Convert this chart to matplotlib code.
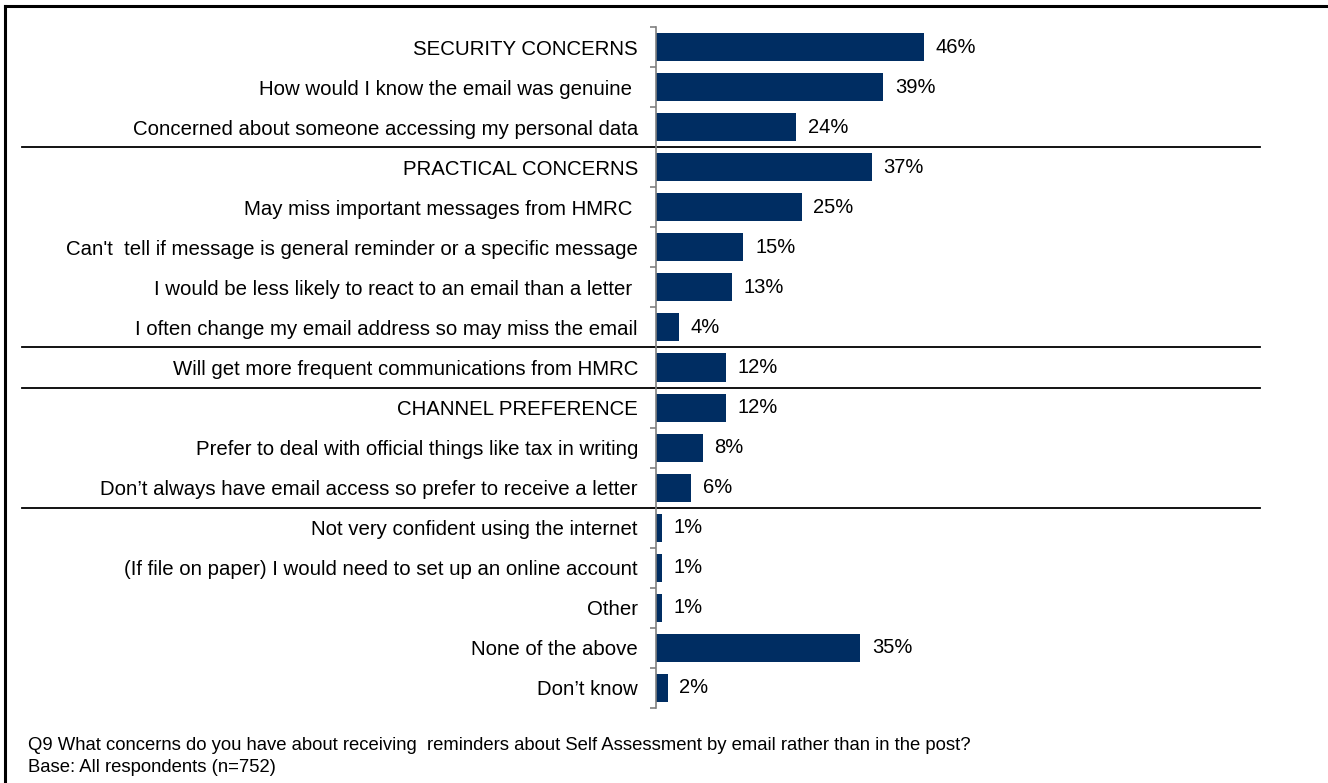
import numpy as np
import matplotlib
matplotlib.use("Agg")
import matplotlib.pyplot as plt
from matplotlib.transforms import blended_transform_factory

# survey answers, top to bottom
labels = [
    "SECURITY CONCERNS",
    "How would I know the email was genuine ",
    "Concerned about someone accessing my personal data",
    "PRACTICAL CONCERNS",
    "May miss important messages from HMRC ",
    "Can't  tell if message is general reminder or a specific message",
    "I would be less likely to react to an email than a letter ",
    "I often change my email address so may miss the email",
    "Will get more frequent communications from HMRC",
    "CHANNEL PREFERENCE",
    "Prefer to deal with official things like tax in writing",
    "Don\u2019t always have email access so prefer to receive a letter",
    "Not very confident using the internet",
    "(If file on paper) I would need to set up an online account",
    "Other",
    "None of the above",
    "Don\u2019t know",
]
values = [46, 39, 24, 37, 25, 15, 13, 4, 12, 12, 8, 6, 1, 1, 1, 35, 2]
# group dividers sit after these rows
dividers = [2, 7, 8, 11]

footnote = ("Q9 What concerns do you have about receiving  reminders about "
            "Self Assessment by email rather than in the post?")
base_note = "Base: All respondents (n=752)"

plt.rcParams['font.family'] = ['Liberation Sans', 'DejaVu Sans']

W, H = 1328, 783
fig = plt.figure(figsize=(W / 100, H / 100), dpi=100)
# axes placed in pixel terms: y-axis at x=656, rows between y=27 and y=708
ax = fig.add_axes([656 / W, 1 - 708 / H, (1260 - 656) / W, (708 - 27) / H])

navy = "#002D62"
y = np.arange(len(labels))
ax.barh(y, values, height=0.7, color=navy)
ax.set_ylim(len(labels) - 0.5, -0.5)
ax.set_xlim(0, 103.6)

for yi, v in zip(y, values):
    ax.text(v + 2.0, yi, f"{v}%", va="center", ha="left", fontsize=14.5, color="black")

ax.set_yticks(y)
ax.set_yticklabels(labels, fontsize=14.7)
ax.tick_params(axis="y", which="major", length=0, pad=13)
ax.set_yticks(np.arange(-0.5, len(labels), 1), minor=True)
ax.tick_params(axis="y", which="minor", length=4, color="#808080", width=1.2)
ax.set_xticks([])
for s in ["top", "right", "bottom"]:
    ax.spines[s].set_visible(False)
ax.spines["left"].set_color("#808080")
ax.spines["left"].set_linewidth(1.2)

# horizontal group dividers across the whole chart
tr = blended_transform_factory(fig.transFigure, ax.transData)
for d in dividers:
    ax.plot([22 / W, 1260 / W], [d + 0.5, d + 0.5], transform=tr, color="black",
            lw=1.3, clip_on=False)

# outer frame (top and left edges visible)
fig.add_artist(plt.Line2D([5 / W, 1], [1 - 6 / H, 1 - 6 / H], color="black", lw=2.2))
fig.add_artist(plt.Line2D([5 / W, 5 / W], [0, 1 - 6 / H], color="black", lw=2.2))

fig.text(28 / W, 1 - 745 / H, footnote, fontsize=13.3, va="center", ha="left")
fig.text(28 / W, 1 - 767 / H, base_note, fontsize=13.3, va="center", ha="left")

fig.savefig("out.png", dpi=100)
